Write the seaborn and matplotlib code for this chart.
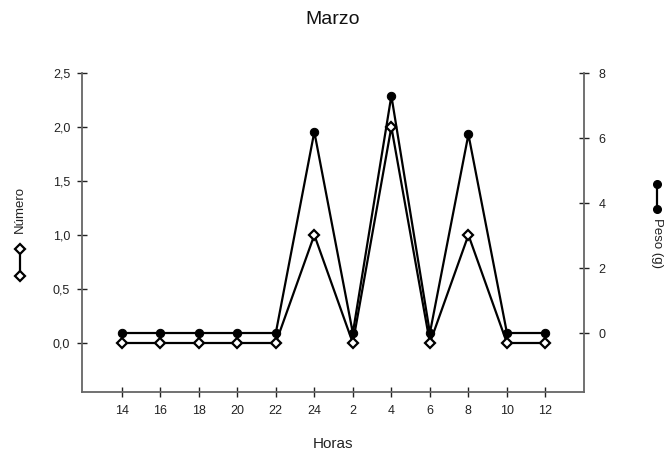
import numpy as np
import pandas as pd
import matplotlib
matplotlib.use("Agg")
import matplotlib.pyplot as plt
from matplotlib.lines import Line2D
from matplotlib.ticker import FuncFormatter, FixedLocator
import seaborn as sns

horas = ["14", "16", "18", "20", "22", "24", "2", "4", "6", "8", "10", "12"]
numero = [0, 0, 0, 0, 0, 1.0, 0, 2.0, 0, 1.0, 0, 0]
peso = [0, 0, 0, 0, 0, 6.19, 0, 7.30, 0, 6.11, 0, 0]

sns.set_theme(style="white")
plt.rcParams['font.family'] = ['Liberation Sans', 'DejaVu Sans']

df = pd.DataFrame({"pos": np.arange(len(horas)), "hora": horas,
                   "numero": numero, "peso": peso})

fig = plt.figure(figsize=(6.67, 4.57), dpi=100)
ax = fig.add_axes([82/667, 1-392/457, (584-82)/667, (392-73)/457])
ax2 = ax.twinx()

spine_c = "#666666"
sns.lineplot(data=df, x="pos", y="numero", ax=ax, color="black", lw=1.6,
             marker="D", markersize=4.8, markerfacecolor="white",
             markeredgecolor="black", markeredgewidth=1.6, zorder=3)
sns.lineplot(data=df, x="pos", y="peso", ax=ax2, color="black", lw=1.6,
             marker="o", markersize=6, markerfacecolor="black",
             markeredgecolor="black", zorder=3)

ax.set_xlim(-1.03, 12.0)
ax.set_ylim(-0.4537, 2.5)
ax2.set_ylim(-1.815, 8)

ax.xaxis.set_major_locator(FixedLocator(df["pos"].tolist()))
ax.set_xticklabels(horas)
ax.set_yticks([0, 0.5, 1.0, 1.5, 2.0, 2.5])
ax.yaxis.set_major_formatter(FuncFormatter(lambda v, p: f"{v:.1f}".replace(".", ",")))
ax2.set_yticks([0, 2, 4, 6, 8])

for a in (ax, ax2):
    a.set_xlabel("")
    a.set_ylabel("")
    a.spines["top"].set_visible(False)
    for s in ("left", "right", "bottom"):
        a.spines[s].set_color(spine_c)
        a.spines[s].set_linewidth(1.3)
    a.tick_params(direction="inout", length=7, width=1.0, color="#222222",
                  labelsize=9, labelcolor="#222222")
ax.spines["right"].set_visible(False)
ax2.spines["left"].set_visible(False)
ax2.spines["bottom"].set_visible(False)
ax.tick_params(axis="y", pad=5, left=True)
ax.tick_params(axis="x", pad=6, bottom=True)
ax2.tick_params(axis="y", pad=7, right=True)
ax.patch.set_alpha(0)

fig.text(333/667, 1-19/457, "Marzo", ha="center", va="center", fontsize=14, color="#111111")
fig.text(333/667, 1-444/457, "Horas", ha="center", va="center", fontsize=11, color="#222222")
fig.text(20/667, 1-210/457, "Número", ha="center", va="center", rotation=90, fontsize=9.5, color="#222222")
fig.text(657/667, 1-243/457, "Peso (g)", ha="center", va="center", rotation=270, fontsize=9.5, color="#222222")

fig.add_artist(Line2D([20/667, 20/667], [1-249/457, 1-276/457], transform=fig.transFigure,
                      color="black", lw=1.6, marker="D", markersize=4.8,
                      markerfacecolor="white", markeredgecolor="black", markeredgewidth=1.6))
fig.add_artist(Line2D([656.5/667, 656.5/667], [1-184/457, 1-209/457], transform=fig.transFigure,
                      color="black", lw=1.6, marker="o", markersize=5.5,
                      markerfacecolor="black", markeredgecolor="black"))

fig.savefig("out.png", dpi=100)
